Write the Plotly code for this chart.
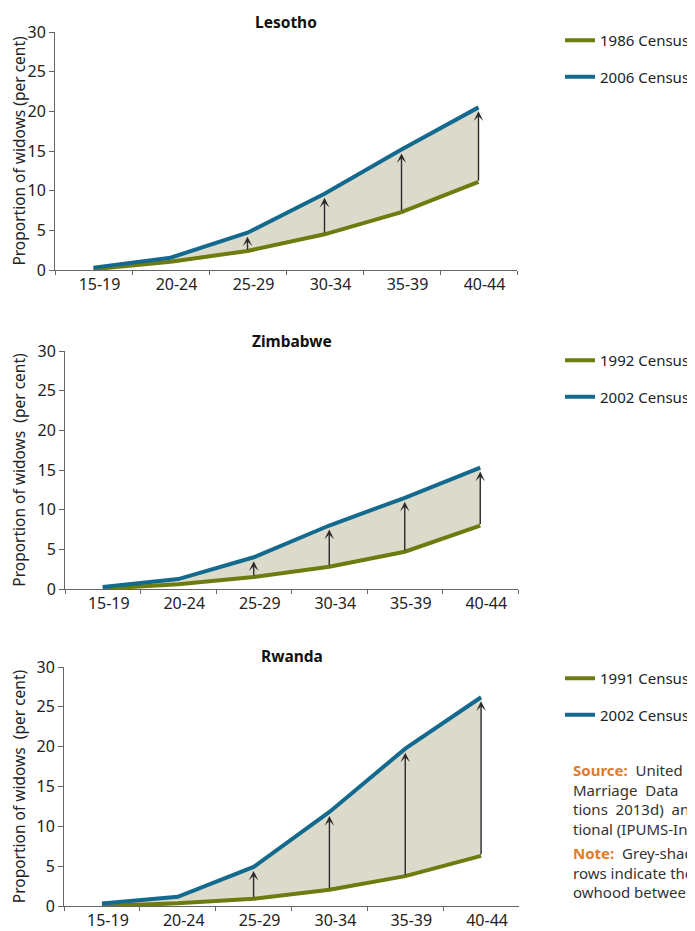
import plotly.graph_objects as go

# ---------------- data ----------------
age_groups = ["15-19", "20-24", "25-29", "30-34", "35-39", "40-44"]
y_ticks = [0, 5, 10, 15, 20, 25, 30]

lesotho_1986 = [0.1, 1.05, 2.4, 4.5, 7.3, 11.1]
lesotho_2006 = [0.3, 1.55, 4.7, 9.6, 15.2, 20.5]
zimbabwe_1992 = [0.05, 0.6, 1.5, 2.8, 4.7, 8.0]
zimbabwe_2002 = [0.25, 1.25, 4.0, 8.0, 11.5, 15.3]
rwanda_1991 = [0.0, 0.33, 0.9, 2.05, 3.75, 6.3]
rwanda_2002 = [0.3, 1.15, 4.9, 11.8, 19.75, 26.2]

countries = ["Lesotho", "Zimbabwe", "Rwanda"]
census_labels = [("1986 Census", "2006 Census"),
                 ("1992 Census", "2002 Census"),
                 ("1991 Census", "2002 Census")]
series = [(lesotho_1986, lesotho_2006),
          (zimbabwe_1992, zimbabwe_2002),
          (rwanda_1991, rwanda_2002)]
y_titles = ["Proportion of widows (per cent)",
            "Proportion of widows  (per cent)",
            "Proportion of widows  (per cent)"]

# ---------------- layout helpers ----------------
# the page body has an 8px margin, so the figure is 8px smaller and positions shift
OFF = 8
W, H = 695 - OFF, 931 - OFF
def px(x):
    return (x - OFF) / W
def py(y):
    return 1 - (y - OFF) / H

# pixel boxes in window coords: (left, right, top(30), bottom(0))
boxes = [(55, 517, 32, 270), (65, 518, 351, 589), (64, 519, 667, 906)]
legend_tops = [24, 344, 662]
title_ys = [22, 341, 656]
ytitle_std = [10, 12, 12]

OLIVE = "#6e7b0e"
BLUE = "#146a8e"
FILL = "#dcdbcb"
AX = "#666666"
FONT = "Noto Sans"

fig = go.Figure()
annotations = []
layout_axes = {}

for i, (name, (low, high), (lab_lo, lab_hi)) in enumerate(zip(countries, series, census_labels)):
    n = "" if i == 0 else str(i + 1)
    xa, ya = "x" + n, "y" + n
    leg = "legend" + n
    # fill band
    fig.add_trace(go.Scatter(x=age_groups, y=low, mode="lines", line=dict(width=0),
                             showlegend=False, hoverinfo="skip", xaxis=xa, yaxis=ya))
    fig.add_trace(go.Scatter(x=age_groups, y=high, mode="lines", line=dict(width=0),
                             fill="tonexty", fillcolor=FILL, showlegend=False,
                             hoverinfo="skip", xaxis=xa, yaxis=ya))
    fig.add_trace(go.Scatter(x=age_groups, y=low, mode="lines", name=lab_lo,
                             line=dict(color=OLIVE, width=4), cliponaxis=False,
                             legend=leg, legendgroup=f"{i}a", xaxis=xa, yaxis=ya))
    fig.add_trace(go.Scatter(x=age_groups, y=high, mode="lines", name=lab_hi,
                             line=dict(color=BLUE, width=4), cliponaxis=False,
                             legend=leg, legendgroup=f"{i}b", xaxis=xa, yaxis=ya))
    # arrows
    for a, lo, hi in zip(age_groups, low, high):
        annotations.append(dict(x=a, y=hi, ax=a, ay=lo, xref=xa, yref=ya,
                                axref=xa, ayref=ya, showarrow=True, arrowhead=3,
                                arrowsize=1.15, arrowwidth=1.4, arrowcolor="#2a2a2a",
                                standoff=4, text=""))
    l, r, t, b = boxes[i]
    layout_axes["xaxis" + n] = dict(domain=[px(l), px(r)], anchor=ya, type="category",
                                    categoryorder="array", categoryarray=age_groups,
                                    range=[-0.5, 5.5], showline=True, linecolor=AX,
                                    linewidth=1, ticks="outside", tickson="boundaries",
                                    ticklen=4, tickcolor=AX, showgrid=False,
                                    zeroline=False, ticklabelshift=6,
                                    tickfont=dict(size=16, color="#222"))
    layout_axes["yaxis" + n] = dict(domain=[py(b), py(t)], anchor=xa, range=[0, 30],
                                    tickvals=y_ticks, showline=True, linecolor=AX,
                                    linewidth=1, ticks="outside", ticklen=5,
                                    tickcolor=AX, showgrid=False, zeroline=False,
                                    tickfont=dict(size=16, color="#222"),
                                    title=dict(text=y_titles[i], font=dict(size=15.5, color="#222"),
                                               standoff=ytitle_std[i]))
    layout_axes[leg] = dict(x=px(560), y=py(legend_tops[i]), xanchor="left", yanchor="top",
                            font=dict(size=15, color="#222", family=FONT),
                            tracegroupgap=14, bgcolor="rgba(0,0,0,0)", itemwidth=30)
    annotations.append(dict(text=f"<b>{name}</b>", x=px((l + r) / 2), y=py(title_ys[i]),
                            xref="paper", yref="paper", showarrow=False,
                            font=dict(size=15.5, color="#111"), xanchor="center",
                            yanchor="middle"))

ORANGE = "#e07b2c"
note_lines = [
    f"<b><span style='color:{ORANGE}'>Source:</span></b>  United  Nations  World",
    "Marriage  Data  2012  (United  Na-",
    "tions  2013d)  and  Integrated  Public  Use",
    "tional (IPUMS-International).",
]
note_lines2 = [
    f"<b><span style='color:{ORANGE}'>Note:</span></b>  Grey-shaded areas and ar-",
    "rows indicate the increase in wid-",
    "owhood between the censuses.",
]
annotations.append(dict(text="<br>".join(note_lines), x=px(571), y=py(758),
                        xref="paper", yref="paper", xanchor="left", yanchor="top",
                        align="left", showarrow=False,
                        font=dict(size=15, color="#333")))
annotations.append(dict(text="<br>".join(note_lines2), x=px(571), y=py(841),
                        xref="paper", yref="paper", xanchor="left", yanchor="top",
                        align="left", showarrow=False,
                        font=dict(size=15, color="#333")))

fig.update_layout(width=W, height=H,
                  margin=dict(l=0, r=0, t=0, b=0, autoexpand=False),
                  paper_bgcolor="white", plot_bgcolor="white",
                  font=dict(family=FONT, color="#222"),
                  annotations=annotations, **layout_axes)

fig.write_html("out.html")
